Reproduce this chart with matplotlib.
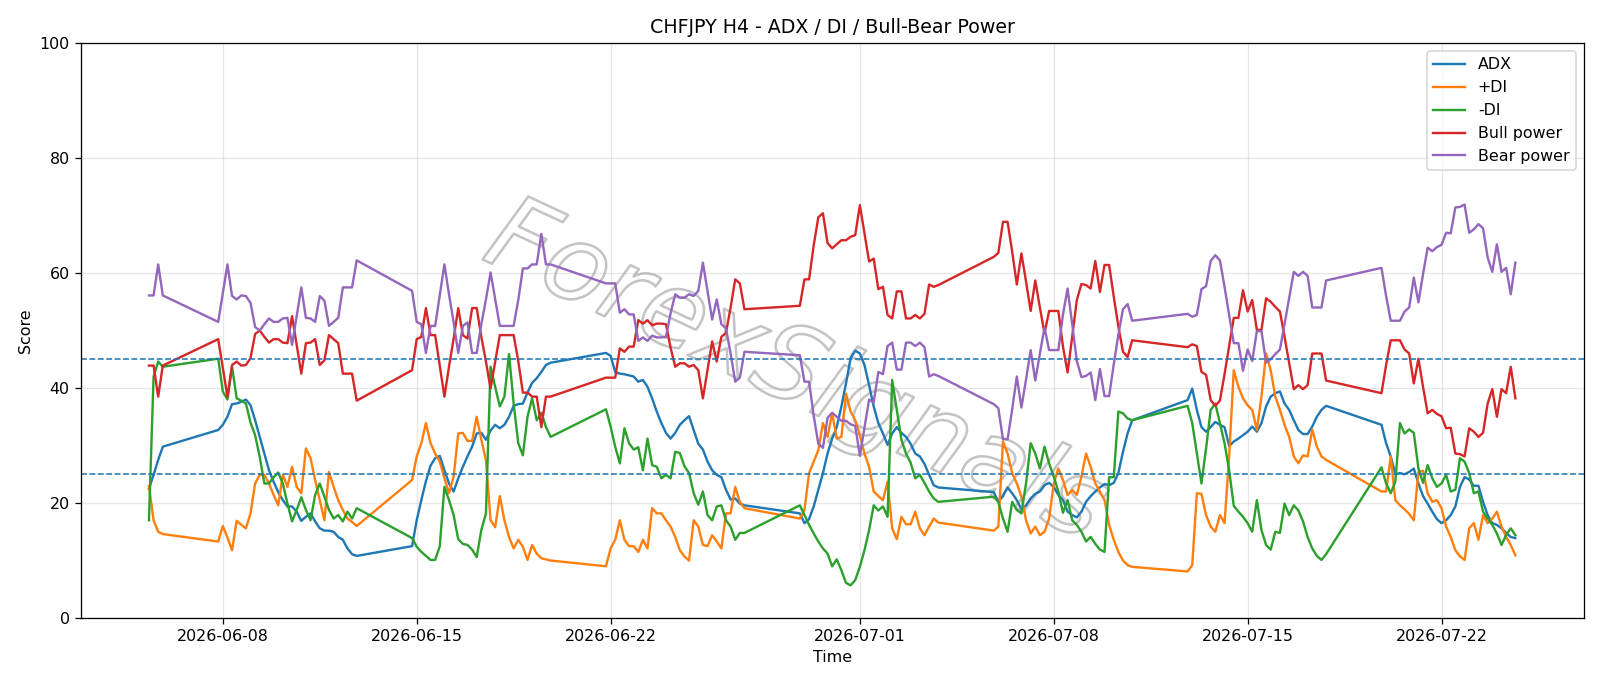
import matplotlib
matplotlib.use("Agg")
import matplotlib.pyplot as plt
import matplotlib.patheffects as pe
import pandas as pd

# H4 bars, weekend gap (Sunday 20:00 bar opens the week)
bars = pd.date_range("2026-06-05 08:00", "2026-07-24 16:00", freq="4h")
bars = bars[(bars.dayofweek < 5) | ((bars.dayofweek == 6) & (bars.hour >= 20))]

# one line per week: first value of weeks 1..7 is the Sunday bar
adx = [
    22.5, 24.9, 27.5, 29.8,
    32.7, 33.6, 35.0, 37.2, 37.3, 37.6, 38.0, 37.0, 34.4, 31.5, 28.6, 25.7, 23.7, 21.9, 20.5, 19.4, 19.4, 18.5, 16.9, 17.6, 18.2, 16.8, 15.6, 15.2, 15.2, 15.0, 14.1, 13.6, 12.1, 11.1, 10.8,
    12.5, 17.0, 20.5, 23.8, 26.5, 27.8, 28.2, 25.7, 23.4, 22.0, 24.3, 26.3, 28.1, 29.8, 32.1, 32.2, 31.0, 32.6, 33.6, 33.0, 33.6, 35.0, 36.9, 37.2, 37.3, 39.2, 40.9, 41.7, 42.8, 44.0, 44.4,
    46.1, 45.6, 42.8, 42.5, 42.4, 42.2, 42.0, 41.1, 41.4, 40.2, 38.2, 35.9, 33.9, 32.2, 31.2, 32.2, 33.6, 34.4, 35.1, 32.7, 30.3, 29.3, 27.2, 25.7, 24.9, 24.5, 22.3, 20.6, 20.8, 19.9, 19.6,
    18.2, 16.5, 17.2, 19.4, 22.3, 25.2, 28.6, 31.2, 33.2, 36.8, 40.8, 45.2, 46.5, 46.0, 44.0, 40.5, 36.8, 33.9, 32.1, 30.1, 32.1, 33.2, 32.2, 31.5, 30.3, 28.6, 28.1, 26.8, 24.9, 23.1, 22.7,
    21.9, 20.2, 21.2, 22.7, 21.7, 20.5, 18.9, 19.6, 20.8, 21.6, 22.0, 23.1, 23.5, 22.8, 21.4, 20.5, 18.5, 17.9, 17.5, 18.5, 20.2, 21.2, 22.0, 22.7, 23.3, 23.1, 23.5, 25.2, 28.9, 32.1, 34.4,
    37.9, 39.9, 36.2, 33.2, 32.4, 33.2, 34.1, 33.6, 33.2, 29.9, 30.7, 31.2, 31.8, 32.4, 33.3, 32.4, 33.9, 36.8, 38.5, 39.1, 39.4, 37.3, 36.2, 34.4, 32.7, 32.0, 32.0, 33.3, 35.0, 36.2, 36.9,
    33.6, 30.4, 28.1, 25.0, 25.2, 25.0, 25.4, 26.0, 23.4, 21.2, 19.9, 18.5, 17.2, 16.5, 17.0, 17.9, 19.4, 22.8, 24.5, 24.1, 23.0, 23.0, 20.2, 17.9, 16.5, 16.2, 15.6, 14.8, 14.1, 13.9,
]
plus_di = [
    23.0, 17.0, 15.0, 14.6,
    13.3, 16.0, 14.0, 11.8, 16.9, 16.2, 15.6, 18.2, 23.4, 24.9, 24.9, 23.4, 21.4, 19.6, 24.9, 22.8, 26.3, 22.8, 21.7, 29.5, 27.8, 24.0, 20.5, 17.0, 25.4, 22.8, 20.5, 18.8, 17.3, 16.7, 16.0,
    24.0, 28.1, 30.4, 33.9, 30.4, 28.6, 27.2, 24.3, 21.7, 24.6, 32.1, 32.2, 30.8, 30.8, 35.0, 31.0, 27.5, 17.0, 15.8, 21.2, 17.0, 14.1, 12.1, 13.6, 12.4, 10.1, 12.7, 11.2, 10.4, 10.2, 10.0,
    9.0, 12.1, 13.6, 17.0, 13.6, 12.5, 12.5, 11.5, 13.6, 12.1, 19.1, 18.2, 18.2, 17.0, 15.9, 14.1, 11.8, 10.7, 10.0, 17.0, 15.9, 12.7, 12.5, 14.4, 13.3, 12.1, 18.2, 18.2, 22.8, 20.2, 19.1,
    17.3, 18.8, 25.2, 27.2, 29.2, 33.9, 31.5, 35.6, 31.2, 31.5, 39.0, 35.9, 34.4, 31.8, 28.6, 26.3, 22.0, 21.2, 20.5, 23.7, 15.6, 13.7, 17.6, 16.3, 16.3, 18.5, 15.6, 14.4, 15.9, 17.3, 16.6,
    15.2, 15.9, 30.7, 28.6, 25.2, 23.4, 21.1, 17.0, 14.7, 15.9, 14.4, 15.0, 17.3, 23.4, 26.0, 24.0, 21.4, 22.3, 21.4, 24.6, 28.6, 26.3, 23.4, 22.0, 20.5, 16.2, 13.6, 11.5, 10.0, 9.2, 8.9,
    8.1, 9.2, 21.7, 21.6, 17.9, 15.9, 15.0, 17.9, 16.5, 28.1, 43.1, 40.2, 38.2, 37.0, 36.2, 32.7, 38.5, 46.0, 43.1, 38.5, 36.2, 33.6, 31.5, 28.1, 26.9, 28.3, 28.1, 32.8, 29.8, 28.1, 27.5,
    22.0, 22.0, 28.1, 20.5, 19.6, 18.9, 18.1, 17.0, 25.4, 25.6, 21.7, 20.2, 20.5, 19.1, 15.9, 14.1, 11.8, 10.7, 10.1, 15.6, 16.5, 13.6, 17.9, 16.5, 17.3, 18.5, 15.9, 14.1, 12.7, 10.9,
]
minus_di = [
    17.0, 42.0, 44.6, 43.7,
    45.1, 39.4, 38.0, 43.7, 38.2, 37.8, 37.3, 34.0, 31.8, 28.0, 23.4, 23.4, 24.5, 25.3, 23.4, 19.9, 16.8, 18.8, 21.0, 18.8, 17.0, 21.4, 23.4, 21.1, 18.8, 17.3, 17.9, 16.8, 18.5, 17.3, 19.1,
    13.9, 12.4, 11.5, 10.8, 10.1, 10.1, 12.5, 22.8, 20.5, 17.9, 13.7, 12.9, 12.7, 11.9, 10.6, 15.3, 18.2, 43.7, 40.2, 36.8, 38.5, 45.9, 37.3, 30.4, 28.3, 35.0, 38.2, 34.4, 35.7, 33.2, 31.5,
    36.3, 33.3, 29.8, 26.9, 33.0, 30.4, 29.3, 29.7, 25.7, 31.2, 26.6, 26.3, 24.3, 24.9, 24.3, 28.9, 28.7, 26.4, 25.2, 21.7, 19.7, 22.0, 17.9, 17.0, 19.4, 19.6, 17.0, 15.9, 13.6, 14.8, 14.8,
    19.6, 17.9, 16.2, 14.7, 13.3, 12.1, 11.2, 9.0, 10.2, 8.3, 6.1, 5.7, 6.6, 8.9, 11.8, 15.3, 19.6, 18.7, 19.4, 17.6, 41.4, 36.2, 31.0, 28.6, 27.0, 24.3, 24.9, 23.5, 22.0, 20.8, 20.2,
    21.1, 20.2, 17.3, 15.0, 20.2, 18.8, 18.2, 23.4, 30.4, 28.6, 26.0, 29.8, 26.9, 24.6, 22.0, 18.3, 20.5, 17.0, 16.2, 15.0, 13.3, 14.1, 12.9, 11.9, 11.5, 24.5, 24.5, 35.9, 35.6, 34.7, 34.4,
    36.9, 33.9, 28.6, 23.4, 29.5, 36.2, 37.3, 33.9, 30.4, 25.7, 19.5, 18.5, 17.6, 16.5, 15.0, 20.5, 15.3, 12.7, 11.9, 15.0, 14.8, 19.9, 17.9, 19.6, 18.7, 16.8, 14.1, 12.1, 10.8, 10.1, 11.1,
    26.2, 23.4, 21.7, 23.7, 33.9, 32.1, 32.8, 32.2, 26.0, 23.5, 26.6, 24.3, 22.8, 23.4, 24.9, 22.0, 22.3, 27.8, 27.2, 25.2, 21.7, 22.0, 18.5, 17.3, 16.2, 14.7, 12.7, 14.4, 15.6, 14.4,
]
bull = [
    43.9, 43.9, 38.5, 43.9,
    48.5, 43.5, 38.5, 44.0, 44.6, 43.9, 44.0, 45.2, 49.4, 50.0, 48.9, 47.9, 48.5, 48.5, 47.9, 47.8, 52.5, 47.5, 42.5, 47.8, 47.9, 48.5, 44.0, 44.8, 49.2, 48.5, 47.8, 42.5, 42.5, 42.5, 37.8,
    43.1, 48.5, 48.9, 53.9, 49.2, 49.2, 43.8, 38.5, 43.7, 48.6, 53.9, 49.2, 48.6, 53.9, 53.9, 48.9, 44.6, 39.9, 44.6, 49.2, 49.2, 49.2, 49.2, 44.7, 39.2, 39.2, 38.5, 38.5, 33.2, 38.5, 38.5,
    41.8, 41.8, 41.8, 46.9, 46.3, 47.2, 47.2, 51.8, 51.2, 51.8, 50.9, 51.2, 51.2, 51.1, 47.0, 43.7, 44.3, 44.3, 43.7, 44.0, 43.1, 38.2, 43.1, 48.1, 44.6, 48.9, 49.6, 54.0, 58.9, 58.2, 53.7,
    54.3, 58.9, 58.9, 64.8, 69.7, 70.4, 65.2, 64.3, 65.0, 65.7, 65.7, 66.3, 66.6, 71.8, 66.9, 62.0, 62.5, 57.2, 57.6, 52.7, 52.1, 56.8, 56.8, 52.1, 52.1, 52.7, 52.1, 52.9, 58.0, 57.6, 57.9,
    62.8, 63.5, 68.9, 68.9, 63.7, 58.0, 63.4, 58.5, 53.4, 58.7, 54.0, 49.5, 53.4, 53.4, 53.4, 47.2, 42.7, 48.9, 55.3, 58.1, 57.9, 57.3, 62.1, 56.7, 61.4, 61.4, 55.9, 50.7, 46.3, 45.4, 48.3,
    47.1, 47.6, 47.3, 42.8, 42.3, 37.9, 36.9, 37.8, 42.4, 47.3, 52.2, 52.2, 57.0, 53.3, 55.3, 50.1, 50.1, 55.6, 55.0, 54.1, 53.3, 48.9, 44.3, 39.8, 40.5, 39.8, 40.5, 46.0, 46.0, 46.0, 41.3,
    39.1, 44.0, 48.3, 48.3, 48.3, 46.7, 46.0, 40.8, 45.1, 40.2, 35.6, 36.2, 35.5, 35.1, 33.0, 33.1, 28.6, 28.5, 28.1, 33.0, 32.4, 31.5, 32.2, 37.3, 39.8, 35.0, 39.8, 39.1, 43.7, 38.2,
]
bear = [
    56.1, 56.1, 61.5, 56.1,
    51.5, 56.5, 61.5, 56.0, 55.4, 56.1, 56.0, 54.8, 50.6, 50.0, 51.1, 52.1, 51.5, 51.5, 52.1, 52.2, 47.5, 52.5, 57.5, 52.2, 52.1, 51.5, 56.0, 55.2, 50.8, 51.5, 52.2, 57.5, 57.5, 57.5, 62.2,
    56.9, 51.5, 51.1, 46.1, 50.8, 50.8, 56.2, 61.5, 56.3, 51.4, 46.1, 50.8, 51.4, 46.1, 46.1, 51.1, 55.4, 60.1, 55.4, 50.8, 50.8, 50.8, 50.8, 55.3, 60.8, 60.8, 61.5, 61.5, 66.8, 61.5, 61.5,
    58.2, 58.2, 58.2, 53.1, 53.7, 52.8, 52.8, 48.2, 48.8, 48.2, 49.1, 48.8, 48.8, 48.9, 53.0, 56.3, 55.7, 55.7, 56.3, 56.0, 56.9, 61.8, 56.9, 51.9, 55.4, 51.1, 50.4, 46.0, 41.1, 41.8, 46.3,
    45.7, 41.1, 41.1, 35.2, 30.3, 29.6, 34.8, 35.7, 35.0, 34.3, 34.3, 33.7, 33.4, 28.2, 33.1, 38.0, 37.5, 42.8, 42.4, 47.3, 47.9, 43.2, 43.2, 47.9, 47.9, 47.3, 47.9, 47.1, 42.0, 42.4, 42.1,
    37.2, 36.5, 31.1, 31.1, 36.3, 42.0, 36.6, 41.5, 46.6, 41.3, 46.0, 50.5, 46.6, 46.6, 46.6, 52.8, 57.3, 51.1, 44.7, 41.9, 42.1, 42.7, 37.9, 43.3, 38.6, 38.6, 44.1, 49.3, 53.7, 54.6, 51.7,
    52.9, 52.4, 52.7, 57.2, 57.7, 62.1, 63.1, 62.2, 57.6, 52.7, 47.8, 47.8, 43.0, 46.7, 44.7, 49.9, 49.9, 44.4, 45.0, 45.9, 46.7, 51.1, 55.7, 60.2, 59.5, 60.2, 59.5, 54.0, 54.0, 54.0, 58.7,
    60.9, 56.0, 51.7, 51.7, 51.7, 53.3, 54.0, 59.2, 54.9, 59.8, 64.4, 63.8, 64.5, 64.9, 67.0, 66.9, 71.4, 71.5, 71.9, 67.0, 67.6, 68.5, 67.8, 62.7, 60.2, 65.0, 60.2, 60.9, 56.3, 61.8,
]

levels = [25, 45]

fig, ax = plt.subplots(figsize=(14, 6.0025), dpi=1600 / 14)
fig.subplots_adjust(left=0.0504, right=0.9898, top=0.9373, bottom=0.0991)

ax.plot(bars, adx, label="ADX")
ax.plot(bars, plus_di, label="+DI")
ax.plot(bars, minus_di, label="-DI")
ax.plot(bars, bull, label="Bull power")
ax.plot(bars, bear, label="Bear power")

for lv in levels:
    ax.axhline(lv, linestyle="--", linewidth=1, color="C0")

# watermark (outlined letters)
ax.text(0.476, 0.425, "ForexSignals", transform=ax.transAxes, fontsize=66,
        color="none", rotation=-25, ha="center", va="center",
        fontstyle="italic", zorder=0,
        path_effects=[pe.withStroke(linewidth=1.6, foreground="#c4c4c4")])

ax.set_ylim(0, 100)
ax.set_title("CHFJPY H4 - ADX / DI / Bull-Bear Power")
ax.set_xlabel("Time")
ax.set_ylabel("Score")
ax.grid(True, alpha=0.3)
ax.legend(loc="upper right")

fig.savefig("out.png", dpi=1600 / 14)
